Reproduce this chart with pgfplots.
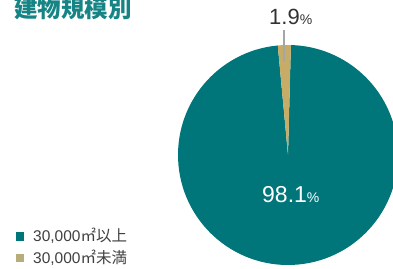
\documentclass[border=0pt]{standalone}
\usepackage{pgfplots}
\pgfplotsset{compat=1.18}
\usepackage{fontspec}
\setmainfont{Liberation Sans}
\newfontfamily\jp{Noto Sans CJK JP}
\definecolor{teal1}{HTML}{00767A}
\definecolor{tan1}{HTML}{C6AC66}
\definecolor{tanleg}{HTML}{B8AC7A}
\definecolor{titlec}{HTML}{168484}
\definecolor{lab}{HTML}{333333}
\begin{document}
\begin{tikzpicture}
\path[use as bounding box] (0,0) rectangle (393pt,268pt);
% data: share of buildings (%)
\def\vOver{98.1}
\def\vUnder{1.9}
\pgfmathsetmacro\angA{88.5}
\pgfmathsetmacro\angB{\angA+\vUnder*3.6}
\pgfmathsetmacro\angC{\angB+\vOver*3.6}
\begin{axis}[x=1pt,y=1pt,xmin=0,xmax=393,ymin=0,ymax=268,hide axis,
  at={(0,0)},anchor=south west,clip=true]
\fill[teal1] (axis cs:288,113) -- ++(\angB:110pt) arc[start angle=\angB,end angle=\angC,radius=110pt] -- cycle;
\fill[tan1] (axis cs:288,113) -- ++(\angA:110pt) arc[start angle=\angA,end angle=\angB,radius=110pt] -- cycle;
\end{axis}
\draw[gray!70,line width=1.6pt] (284pt,238pt) -- (284pt,207pt);
\node[anchor=base west,inner sep=0,text=titlec,font=\jp\bfseries\fontsize{23.5}{24}\selectfont] at (14pt,250.5pt) {建物規模別};
\fill[teal1] (16pt,27pt) rectangle (24pt,36pt);
\fill[tanleg] (16pt,6pt) rectangle (24pt,14pt);
\node[anchor=base west,inner sep=0,text=black!75,font=\fontsize{15.5}{15.5}\selectfont] at (33pt,26.5pt) {30,000{\jp ㎡以上}};
\node[anchor=base west,inner sep=0,text=black!75,font=\fontsize{15.5}{15.5}\selectfont] at (33pt,5pt) {30,000{\jp ㎡未満}};
\node[anchor=base west,inner sep=0,text=lab] at (269pt,243pt) {{\fontsize{22}{22}\selectfont 1.9}{\fontsize{14}{14}\selectfont\%}};
\node[anchor=base west,inner sep=0,text=white] at (262pt,66pt) {{\fontsize{23}{23}\selectfont 98.1}{\fontsize{14}{14}\selectfont\%}};
\end{tikzpicture}
\end{document}
